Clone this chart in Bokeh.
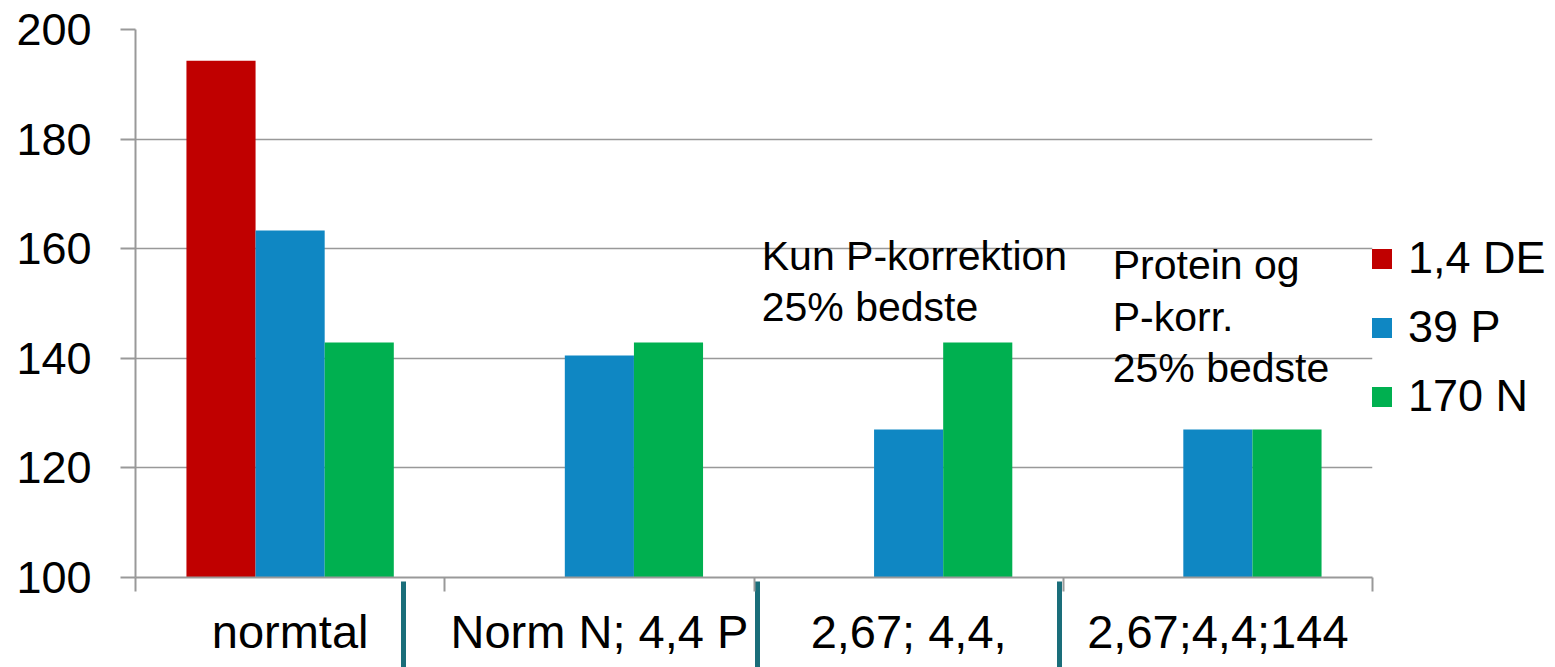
from bokeh.plotting import figure
from bokeh.models import (Range1d, FixedTicker, LinearAxis, Legend, LegendItem,
                          Label, ColumnDataSource, Grid)
from bokeh.embed import file_html
from bokeh.resources import INLINE

# ---- data ----
categories = ["normtal", "Norm N; 4,4 P", "2,67; 4,4,", "2,67;4,4;144"]
series_names = ["1,4 DE", "39 P", "170 N"]
de_values = [194.3, None, None, None]
p_values = [163.3, 140.5, 127.0, 127.0]
n_values = [142.9, 142.9, 142.9, 127.0]
y_ticks = [100, 120, 140, 160, 180, 200]
colors = ["#C00000", "#0F87C3", "#00B050"]

FONT = "Liberation Sans"
GRAY = "#999999"

p = figure(frame_width=1237, frame_height=548, output_backend="svg", toolbar_location=None,
           x_range=Range1d(0, len(categories)), y_range=Range1d(100, 200),
           x_axis_type=None, y_axis_type=None,
           min_border_left=135, min_border_right=183, min_border_top=29,
           min_border_bottom=90)
p.outline_line_color = None
p.background_fill_color = "white"
p.border_fill_color = "white"

# y axis
yaxis = LinearAxis(ticker=FixedTicker(ticks=y_ticks))
yaxis.axis_line_color = GRAY
yaxis.axis_line_width = 2
yaxis.major_tick_line_color = GRAY
yaxis.major_tick_line_width = 2
yaxis.major_tick_out = 15
yaxis.major_tick_in = 0
yaxis.minor_tick_line_color = None
yaxis.major_label_text_font = FONT
yaxis.major_label_text_font_size = "45px"
yaxis.major_label_text_color = "black"
yaxis.major_label_standoff = 29
p.add_layout(yaxis, "left")

centers = [i + 0.5 for i in range(len(categories))]
bounds = list(range(len(categories) + 1))

# x axis line + boundary ticks (minor) + table-cell separators of the slide (major)
sep_positions = [0.867, 2.011, 2.988]
xline = LinearAxis(ticker=FixedTicker(ticks=sep_positions, minor_ticks=bounds))
xline.axis_line_color = GRAY
xline.axis_line_width = 2
xline.major_tick_line_color = "#1A6E7A"
xline.major_tick_line_width = 5
xline.major_tick_out = 92
xline.major_tick_in = -4
xline.minor_tick_line_color = GRAY
xline.minor_tick_line_width = 2
xline.minor_tick_out = 14
xline.minor_tick_in = 0
xline.major_label_overrides = {s: "" for s in sep_positions}
xline.major_label_text_font_size = "0px"
xline.major_label_standoff = 0
p.add_layout(xline, "below")

# category labels
xaxis = LinearAxis(ticker=FixedTicker(ticks=centers))
xaxis.major_label_overrides = {c: lab for c, lab in zip(centers, categories)}
xaxis.axis_line_color = None
xaxis.major_tick_line_color = None
xaxis.major_tick_out = 0
xaxis.major_tick_in = 0
xaxis.minor_tick_line_color = None
xaxis.major_label_text_font = FONT
xaxis.major_label_text_font_size = "47px"
xaxis.major_label_text_color = "black"
xaxis.major_label_standoff = -65
p.add_layout(xaxis, "below")

# grid
grid = Grid(dimension=1, ticker=yaxis.ticker)
grid.grid_line_color = GRAY
grid.grid_line_width = 1.5
p.add_layout(grid)

# bars
bar_w = 0.2235
offsets = [-bar_w, 0.0, bar_w]
renderers = []
for vals, off, col in zip([de_values, p_values, n_values], offsets, colors):
    xs = [c + off for c, v in zip(centers, vals) if v is not None]
    tops = [v for v in vals if v is not None]
    src = ColumnDataSource(dict(x=xs, top=tops))
    r = p.vbar(x="x", top="top", bottom=100, width=bar_w, source=src,
               fill_color=col, line_color=None)
    renderers.append(r)

legend = Legend(items=[LegendItem(label=n, renderers=[r]) for n, r in zip(series_names, renderers)],
                location=(-3, 155))
legend.glyph_width = 25
legend.glyph_height = 25
legend.label_text_font = FONT
legend.label_text_font_size = "45px"
legend.label_text_color = "black"
legend.label_standoff = 14
legend.label_height = 52
legend.spacing = 17
legend.padding = 0
legend.margin = 0
legend.border_line_color = None
legend.background_fill_alpha = 0
p.add_layout(legend, "right")

# annotations
ann = [("Kun P-korrektion", 2.025, 158.7), ("25% bedste", 2.025, 149.4),
       ("Protein og", 3.16, 157.1), ("P-korr.", 3.16, 147.6), ("25% bedste", 3.16, 138.3)]
for t, x, y in ann:
    p.add_layout(Label(x=x, y=y, text=t, text_font=FONT, text_font_size="41px",
                       text_baseline="alphabetic", text_align="left", text_color="black"))

open("out.html", "w").write(file_html(p, INLINE))
